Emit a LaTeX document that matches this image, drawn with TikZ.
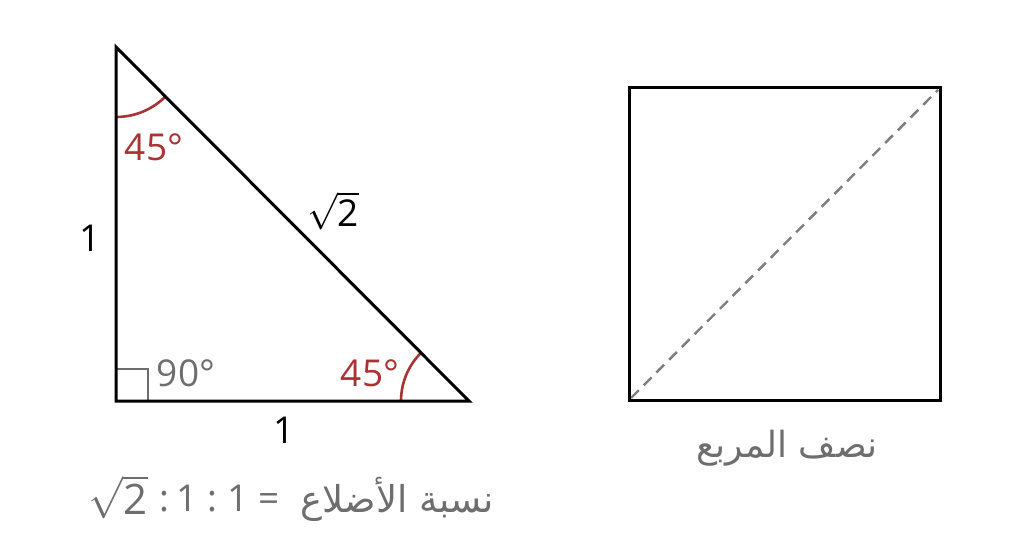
\documentclass[tikz,border=0pt]{standalone}
\usepackage{fix-cm}
\usepackage{exscale}
\usepackage{fontspec}
\setmainfont{Open Sans}
\newfontfamily\arabicfont[Script=Arabic]{DejaVu Sans}
\TeXXeTstate=1
\begin{document}
\begin{tikzpicture}[x=1pt,y=-1pt,
  edge/.style={line width=3pt,line join=miter,black},
  angarc/.style={line width=2.6pt,draw={rgb,255:red,170;green,50;blue,50}},
  redlbl/.style={text={rgb,255:red,170;green,50;blue,50},font=\fontsize{37}{37}\selectfont,inner sep=0pt},
  blklbl/.style={text=black,font=\fontsize{37}{37}\selectfont,inner sep=0pt},
  graylbl/.style={text={rgb,255:red,110;green,110;blue,110},font=\fontsize{37}{37}\selectfont,inner sep=0pt},
  arlbl/.style={text={rgb,255:red,110;green,110;blue,110},font=\arabicfont\fontsize{37}{37}\selectfont,inner sep=0pt}]
\useasboundingbox (0,0) rectangle (1024,559);
\fill[white] (0,0) rectangle (1024,559);
% triangle
\coordinate (A) at (116,47);
\coordinate (B) at (116,401);
\coordinate (C) at (469,401);
\draw[angarc] (116,117) arc[start angle=90,end angle=45,radius=70];
\draw[angarc] (401,401) arc[start angle=180,end angle=225,radius=68];
\draw[line width=2.2pt,draw={rgb,255:red,110;green,110;blue,110}] (116,369) -- (148,369) -- (148,401);
\draw[edge] (A) -- (B) -- (C) -- cycle;
\node[redlbl] (a1) at (154,147) {45°};
\node[redlbl] (a2) at (370,373) {45°};
\node[graylbl] (a3) at (186,373) {90°};
\node[blklbl] (s1) at (90,238) {1};
\node[blklbl] (s2) at (284,430) {1};
\node[blklbl] (s3) at (333,211) {$\sqrt{\mbox{\fontsize{37}{37}\selectfont 2}}$};
% square
\coordinate (P) at (629,88);
\coordinate (Q) at (940,400);
\draw[line width=2.4pt,dash pattern=on 11pt off 7pt,draw={rgb,255:red,125;green,125;blue,125}] (631,398) -- (938,90);
\draw[edge] (P) rectangle (Q);
\node[arlbl,font=\arabicfont\fontsize{36}{36}\selectfont] (sq) at (787,448) {\beginR نصف المربع\endR};
% ratio
\node[arlbl,anchor=east] (r1) at (494,499) {\beginR نسبة الأضلاع\endR};
\node[graylbl,anchor=east] (r2) at (280,499) {:\hspace{7pt}1\hspace{10pt}:\hspace{10pt}1\hspace{10pt}=};
\node[graylbl,font=\fontsize{42}{42}\selectfont] (r3) at (118,497) {$\sqrt{\mbox{\fontsize{42}{42}\selectfont 2}}$};
\end{tikzpicture}
\end{document}
